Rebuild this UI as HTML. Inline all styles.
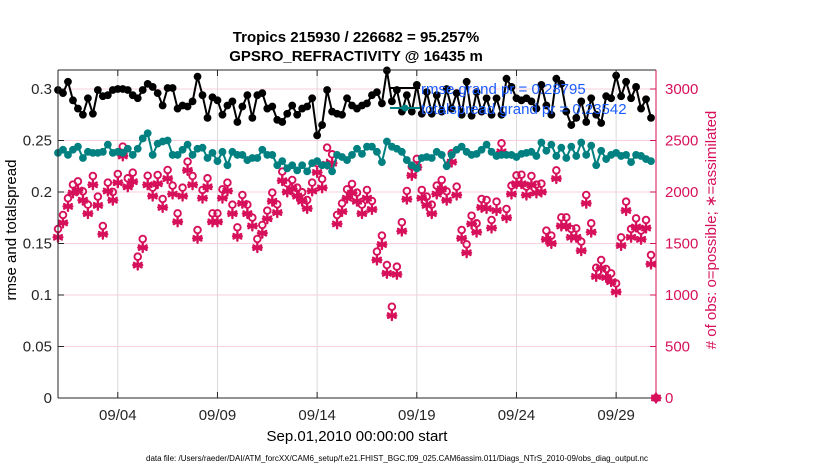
<!DOCTYPE html>
<html><head><meta charset="utf-8">
<style>
html,body{margin:0;padding:0;background:#fff;}
svg{display:block;font-family:"Liberation Sans",Arial,sans-serif;}
</style></head>
<body>
<svg id="chart" width="830" height="470" viewBox="0 0 830 470" xmlns="http://www.w3.org/2000/svg">
  <rect x="0" y="0" width="830" height="470" fill="#fff"/>
  <text x="356" y="42" text-anchor="middle" font-size="15" font-weight="bold">Tropics 215930 / 226682 = 95.257%</text>
  <text x="356" y="61" text-anchor="middle" font-size="15" font-weight="bold">GPSRO_REFRACTIVITY @ 16435 m</text>
  <g id="grid"></g>
  <g id="series"></g>
  <g id="axes"></g>
  <text transform="translate(16,230) rotate(-90)" text-anchor="middle" font-size="15">rmse and totalspread</text>
  <text transform="translate(716,230) rotate(-90)" text-anchor="middle" font-size="15" fill="#d6105a"># of obs: o=possible; ∗=assimilated</text>
  <text x="357" y="441" text-anchor="middle" font-size="15">Sep.01,2010 00:00:00 start</text>
  <text x="146" y="461" font-size="8" textLength="502" lengthAdjust="spacingAndGlyphs">data file: /Users/raeder/DAI/ATM_forcXX/CAM6_setup/f.e21.FHIST_BGC.f09_025.CAM6assim.011/Diags_NTrS_2010-09/obs_diag_output.nc</text>
  <g id="legend">
    <line x1="390" y1="88" x2="420" y2="88" stroke="#000" stroke-width="2"/>
    <text x="421" y="94" font-size="15" fill="#1a5cff">rmse grand pr = 0.28795</text>
    <line x1="390" y1="108" x2="420" y2="108" stroke="#008080" stroke-width="2"/>
    <circle cx="405" cy="108" r="3.5" fill="#008080"/>
    <text x="421" y="114" font-size="15" fill="#1a5cff">totalspread grand pr = 0.23542</text>
  </g>
</svg>
<script>
const rmse = [0.299,0.296,0.307,0.289,0.281,0.275,0.291,0.276,0.299,0.293,0.294,0.299,0.300,0.300,0.299,0.294,0.291,0.299,0.305,0.302,0.296,0.284,0.301,0.301,0.281,0.284,0.283,0.288,0.312,
0.294,0.272,0.292,0.289,0.275,0.284,0.288,0.268,0.283,0.294,0.272,0.294,0.296,0.281,0.283,0.270,0.268,0.276,0.284,0.275,0.281,0.283,0.291,0.255,0.265,0.299,0.278,0.276,0.275,
0.291,0.284,0.281,0.284,0.286,0.294,0.297,0.286,0.318,0.288,0.299,0.278,0.294,0.278,0.304,0.276,0.297,0.276,0.294,0.278,0.300,0.281,0.296,0.275,0.307,0.274,0.297,0.278,0.291,0.275,
0.291,0.275,0.310,0.302,0.291,0.289,0.291,0.288,0.281,0.304,0.284,0.275,0.310,0.305,0.278,0.265,0.272,0.288,0.268,0.291,0.275,0.267,0.293,0.291,0.313,0.293,0.307,0.291,0.302,0.281,0.290,0.272];
const spread = [0.238,0.241,0.236,0.241,0.244,0.233,0.239,0.238,0.238,0.239,0.246,0.238,0.239,0.238,0.242,0.236,0.242,0.252,0.257,0.236,0.247,0.249,0.250,0.236,0.236,0.241,0.246,0.236,0.242,
0.243,0.233,0.238,0.230,0.239,0.226,0.239,0.236,0.236,0.231,0.233,0.233,0.241,0.236,0.236,0.226,0.230,0.223,0.226,0.221,0.226,0.220,0.228,0.230,0.226,0.226,0.220,0.236,0.234,
0.231,0.236,0.242,0.237,0.244,0.244,0.239,0.229,0.249,0.244,0.242,0.239,0.231,0.226,0.223,0.233,0.234,0.233,0.239,0.236,0.225,0.236,0.241,0.244,0.239,0.236,0.237,0.241,0.246,0.239,
0.235,0.236,0.236,0.236,0.234,0.237,0.238,0.239,0.235,0.248,0.240,0.246,0.235,0.243,0.233,0.244,0.235,0.248,0.236,0.245,0.226,0.240,0.232,0.236,0.238,0.235,0.236,0.229,0.236,0.235,0.232,0.230];
const possible = [1641,1777,1939,2072,2103,2006,1877,2155,1955,1670,2091,2000,2175,2441,2133,2188,1372,1544,2158,2042,2165,1932,2214,2062,1793,2042,2295,2155,1631,2020,
2133,1793,1793,2026,2091,1877,1657,1971,1877,1751,1544,1680,1819,1994,1880,2198,2084,2117,2042,1997,1922,2091,2279,2126,2431,2366,1777,1890,2026,2078,1994,
1877,2020,1913,1421,1577,1291,886,1275,1706,2010,2246,2321,2020,1955,1877,2062,2117,2006,2376,2052,1631,1492,1770,1696,1932,1922,1728,1906,2473,
1835,2062,2161,2168,2052,2155,2072,2081,1625,1577,2210,1754,1754,1641,1647,1518,1971,1696,1265,1340,1252,1210,1113,1560,1906,1641,1744,1625,1728,1388,0];
const assimilated = [1560,1700,1860,1990,2020,1920,1790,2070,1870,1590,2010,1920,2090,2350,2050,2100,1290,1460,2070,1960,2080,1850,2130,1980,1710,1960,2210,2070,1550,1940,
2050,1710,1710,1940,2010,1790,1570,1890,1790,1670,1460,1600,1740,1910,1800,2110,2000,2030,1960,1910,1840,2010,2190,2040,2270,2280,1690,1810,1940,1990,1910,
1790,1940,1830,1340,1490,1210,800,1200,1620,1930,2160,2240,1940,1870,1790,1980,2030,1920,2290,1970,1550,1410,1690,1610,1850,1840,1650,1820,2390,
1750,1980,2080,2080,1970,2070,1990,2000,1540,1500,2130,1670,1670,1560,1560,1430,1890,1610,1180,1260,1170,1130,1030,1480,1820,1560,1660,1540,1650,1300,0];
const xTickDays = [3,8,13,18,23,28];
const xTickLabels = ["09/04","09/09","09/14","09/19","09/24","09/29"];
const leftTicks = [0,0.05,0.1,0.15,0.2,0.25,0.3];
const leftTickLabels = ["0","0.05","0.1","0.15","0.2","0.25","0.3"];
const rightTicks = [0,500,1000,1500,2000,2500,3000];
const rightTickLabels = ["0","500","1000","1500","2000","2500","3000"];
const daysPerPoint = 0.25;

const NS="http://www.w3.org/2000/svg";
const L=58,R=656,T=70,B=398;
const X0=0,X1=30;
const x = d => L + (d-X0)/(X1-X0)*(R-L);
const yL = v => B - v/0.3*309;
const yR = c => B - c/3000*309;
const MAG="#d6105a", TEAL="#008080";
function mk(tag,attrs,parent){const e=document.createElementNS(NS,tag);for(const k in attrs)e.setAttribute(k,attrs[k]);parent.appendChild(e);return e;}
const grid=document.getElementById('grid'),ser=document.getElementById('series'),ax=document.getElementById('axes');

xTickDays.forEach((d,i)=>{
  const g=mk('line',{x1:x(d),x2:x(d),y1:T,y2:B,stroke:'#d9d9d9','stroke-width':1},grid);
  
  
});
rightTicks.forEach((c,i)=>{
  if(c===0)return;
  const g=mk('line',{x1:L,x2:R,y1:yR(c),y2:yR(c),stroke:'#f7d0dd','stroke-width':1},grid);
  
  
});

possible.forEach((c,i)=>{
  const cx=x(i*daysPerPoint), cy=yR(c);
  const o=mk('circle',{cx:cx,cy:cy,r:3.3,fill:'none',stroke:MAG,'stroke-width':1.9},ser);
  
  
});
assimilated.forEach((c,i)=>{
  const cx=x(i*daysPerPoint), cy=yR(c);
  const g=mk('g',{stroke:MAG,'stroke-width':2.4,'stroke-linecap':'round'},ser);
  
  
  const r=4.4;
  [[0,r],[r*0.87,r*0.5],[r*0.87,-r*0.5],[r,0]].forEach(([dx,dy])=>{
    mk('line',{x1:cx-dx,y1:cy-dy,x2:cx+dx,y2:cy+dy},g);
  });
});

function lineSeries(vals,color,name){
  const pts=vals.map((v,i)=>x(i*daysPerPoint).toFixed(1)+','+yL(v).toFixed(1)).join(' ');
  const p=mk('polyline',{points:pts,fill:'none',stroke:color,'stroke-width':2},ser);
  
  
  vals.forEach((v,i)=>{
    const c=mk('circle',{cx:x(i*daysPerPoint),cy:yL(v),r:3.9,fill:color},ser);
    
    
  });
}
lineSeries(spread,TEAL,'totalspread');
lineSeries(rmse,'#000','rmse');

const fb=mk('line',{x1:L,x2:R,y1:B,y2:B,stroke:'#262626','stroke-width':1},ax);


const ft=mk('line',{x1:L,x2:R,y1:T,y2:T,stroke:'#262626','stroke-width':1},ax);


const fl=mk('line',{x1:L,x2:L,y1:T,y2:B,stroke:'#262626','stroke-width':1},ax);


const fr=mk('line',{x1:R,x2:R,y1:T,y2:B,stroke:MAG,'stroke-width':1},ax);



xTickDays.forEach((d,i)=>{
  mk('line',{x1:x(d),x2:x(d),y1:B,y2:B-6,stroke:'#262626'},ax);
  mk('line',{x1:x(d),x2:x(d),y1:T,y2:T+6,stroke:'#262626'},ax);
  const t=mk('text',{x:x(d),y:B+22,'text-anchor':'middle','font-size':15,fill:'#262626'},ax);
  t.textContent=xTickLabels[i];
  
  
});
leftTicks.forEach((v,i)=>{
  mk('line',{x1:L,x2:L+6,y1:yL(v),y2:yL(v),stroke:'#262626'},ax);
  const t=mk('text',{x:L-6,y:yL(v)+5,'text-anchor':'end','font-size':15,fill:'#262626'},ax);
  t.textContent=leftTickLabels[i];
  
  
});
rightTicks.forEach((c,i)=>{
  mk('line',{x1:R,x2:R-6,y1:yR(c),y2:yR(c),stroke:MAG},ax);
  const t=mk('text',{x:R+9,y:yR(c)+5,'text-anchor':'start','font-size':15,fill:MAG},ax);
  t.textContent=rightTickLabels[i];
  
  
});
document.getElementById('chart').appendChild(document.getElementById('legend'));
</script>
</body></html>
